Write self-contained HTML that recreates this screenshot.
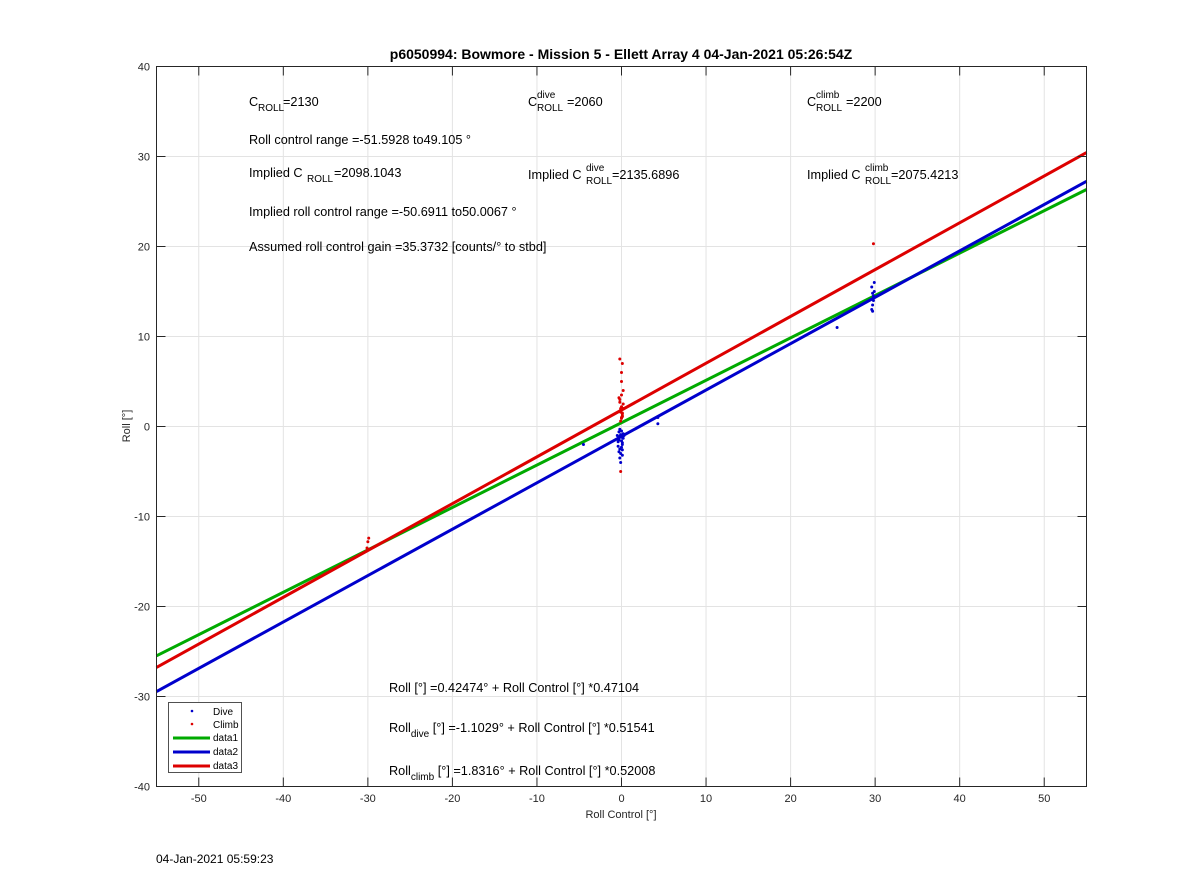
<!DOCTYPE html>
<html><head><meta charset="utf-8"><style>
body{margin:0;background:#fff;}
svg text{font-family:"Liberation Sans",sans-serif;}
</style></head><body>
<svg id="chart" width="1200" height="885" xmlns="http://www.w3.org/2000/svg">
<rect width="1200" height="885" fill="#fff"/>
<g id="grid"></g>
<g id="lines"></g>
<g id="pts"></g>
<rect x="156.5" y="66.5" width="930" height="720" fill="none" stroke="#262626" stroke-width="1"/>
<g id="ticks" font-size="11" fill="#262626"></g>
<text x="621" y="59" font-size="14" font-weight="bold" text-anchor="middle" fill="#000">p6050994: Bowmore - Mission 5 - Ellett Array 4 04-Jan-2021 05:26:54Z</text>
<text x="621" y="818" font-size="11" text-anchor="middle" fill="#262626">Roll Control [°]</text>
<text transform="translate(130,426) rotate(-90)" font-size="11" text-anchor="middle" fill="#262626">Roll [°]</text>
<text x="156" y="863" font-size="12" fill="#000">04-Jan-2021 05:59:23</text>
<g font-size="12.7" fill="#000">
<text x="249" y="106">C</text><text x="258" y="111" font-size="10">ROLL</text><text x="283" y="106">=2130</text>
<text x="528" y="106">C</text><text x="537" y="98" font-size="10">dive</text><text x="537" y="111" font-size="10">ROLL</text><text x="567" y="106">=2060</text>
<text x="807" y="106">C</text><text x="816" y="98" font-size="10">climb</text><text x="816" y="111" font-size="10">ROLL</text><text x="846" y="106">=2200</text>
<text x="249" y="144">Roll control range =-51.5928 to49.105 °</text>
<text x="249" y="177">Implied C</text><text x="307" y="182" font-size="10">ROLL</text><text x="334" y="177">=2098.1043</text>
<text x="528" y="179">Implied C</text><text x="586" y="171" font-size="10">dive</text><text x="586" y="184" font-size="10">ROLL</text><text x="612" y="179">=2135.6896</text>
<text x="807" y="179">Implied C</text><text x="865" y="171" font-size="10">climb</text><text x="865" y="184" font-size="10">ROLL</text><text x="891" y="179">=2075.4213</text>
<text x="249" y="216">Implied roll control range =-50.6911 to50.0067 °</text>
<text x="249" y="251">Assumed roll control gain =35.3732 [counts/° to stbd]</text>
<text x="389" y="692">Roll [°] =0.42474° + Roll Control [°] *0.47104</text>
<text x="389" y="732">Roll<tspan font-size="10" dy="5">dive</tspan><tspan dy="-5"> [°] =-1.1029° + Roll Control [°] *0.51541</tspan></text>
<text x="389" y="775">Roll<tspan font-size="10" dy="5">climb</tspan><tspan dy="-5"> [°] =1.8316° + Roll Control [°] *0.52008</tspan></text>
</g>
<g>
<rect x="168.5" y="702.5" width="73" height="70" fill="#fff" stroke="#262626" stroke-width="0.8"/>
<circle cx="192" cy="711" r="1.3" fill="#0000cc"/><text x="213" y="715" font-size="10">Dive</text>
<circle cx="192" cy="724" r="1.3" fill="#dd0000"/><text x="213" y="728" font-size="10">Climb</text>
<line x1="173" y1="738" x2="210" y2="738" stroke="#00aa00" stroke-width="3"/><text x="213" y="741" font-size="10">data1</text>
<line x1="173" y1="752" x2="210" y2="752" stroke="#0000cc" stroke-width="3"/><text x="213" y="755" font-size="10">data2</text>
<line x1="173" y1="766" x2="210" y2="766" stroke="#dd0000" stroke-width="3"/><text x="213" y="769" font-size="10">data3</text>
</g>
</svg>
<script>
const xTicks=[-50,-40,-30,-20,-10,0,10,20,30,40,50];
const yTicks=[-40,-30,-20,-10,0,10,20,30,40];
const fitNames=['data1','data2','data3'];
const fitIntercepts=[0.42474,-1.1029,1.8316];
const fitSlopes=[0.47104,0.51541,0.52008];
const fitColors=['#00aa00','#0000cc','#dd0000'];
const diveX=[-0.3,-0.2,-0.1,0,0.1,0.2,-0.4,-0.2,0,0.1,-0.1,0.3,-0.3,0,-0.2,0.1,-0.5,-0.4,0.2,-0.1,0,-0.3,0.1,-0.2,4.3,4.3,-4.5,25.5,29.6,29.7,29.8,29.9,29.6,29.7,29.8,29.9,29.7];
const diveY=[-1.5,-2.5,-3.0,-1.2,-2.0,-0.8,-2.2,-3.5,-0.5,-1.8,-4.0,-1.0,-2.8,-2.3,-0.3,-3.2,-1.0,-1.7,-1.3,-0.9,-1.6,-0.6,-2.6,-1.1,0.3,1.0,-2.0,11.0,13.0,13.5,14.0,15.0,15.5,12.8,14.5,16.0,14.8];
const climbX=[0,0.1,-0.1,0.2,-0.2,0,0.1,-0.1,0,0.1,-0.2,0,0.2,-0.3,-0.1,0,0.1,-0.1,0.2,0,-0.2,0.1,-30.1,-30.0,-29.9,29.8,-0.1];
const climbY=[1.0,1.5,2.0,2.5,3.0,3.5,1.2,1.8,5.0,7.0,7.5,6.0,4.0,3.2,0.6,2.2,1.4,1.6,2.0,0.9,2.7,1.1,-13.5,-12.8,-12.4,20.3,-5.0];
const X=v=>156.5+(v+55)/110*930, Y=v=>66.5+(40-v)/80*720;
const NS='http://www.w3.org/2000/svg';
function mk(p,tag,a){const e=document.createElementNS(NS,tag);for(const k in a)e.setAttribute(k,a[k]);document.getElementById(p).appendChild(e);return e;}
xTicks.forEach(t=>{
 const g=mk('grid','line',{x1:X(t),x2:X(t),y1:66.5,y2:786.5,stroke:'#e3e3e3','stroke-width':1});
 
 mk('ticks','line',{x1:X(t),x2:X(t),y1:786.5,y2:777.5,stroke:'#262626'});
 mk('ticks','line',{x1:X(t),x2:X(t),y1:66.5,y2:75.5,stroke:'#262626'});
 const l=mk('ticks','text',{x:X(t),y:802,'text-anchor':'middle'});l.textContent=t;
 
});
yTicks.forEach(t=>{
 const g=mk('grid','line',{x1:156.5,x2:1086.5,y1:Y(t),y2:Y(t),stroke:'#e3e3e3','stroke-width':1});
 
 mk('ticks','line',{x1:156.5,x2:165.5,y1:Y(t),y2:Y(t),stroke:'#262626'});
 mk('ticks','line',{x1:1086.5,x2:1077.5,y1:Y(t),y2:Y(t),stroke:'#262626'});
 const l=mk('ticks','text',{x:150,y:Y(t)+4,'text-anchor':'end'});l.textContent=t;
 
});
diveX.forEach((x,i)=>{const c=mk('pts','circle',{cx:X(x),cy:Y(diveY[i]),r:1.5,fill:'#0000cc'});
 });
climbX.forEach((x,i)=>{const c=mk('pts','circle',{cx:X(x),cy:Y(climbY[i]),r:1.5,fill:'#dd0000'});
 });
fitNames.forEach((n,i)=>{const l=mk('lines','line',{x1:X(-55),y1:Y(fitIntercepts[i]-55*fitSlopes[i]),x2:X(55),y2:Y(fitIntercepts[i]+55*fitSlopes[i]),stroke:fitColors[i],'stroke-width':3});
 });
</script>
</body></html>
